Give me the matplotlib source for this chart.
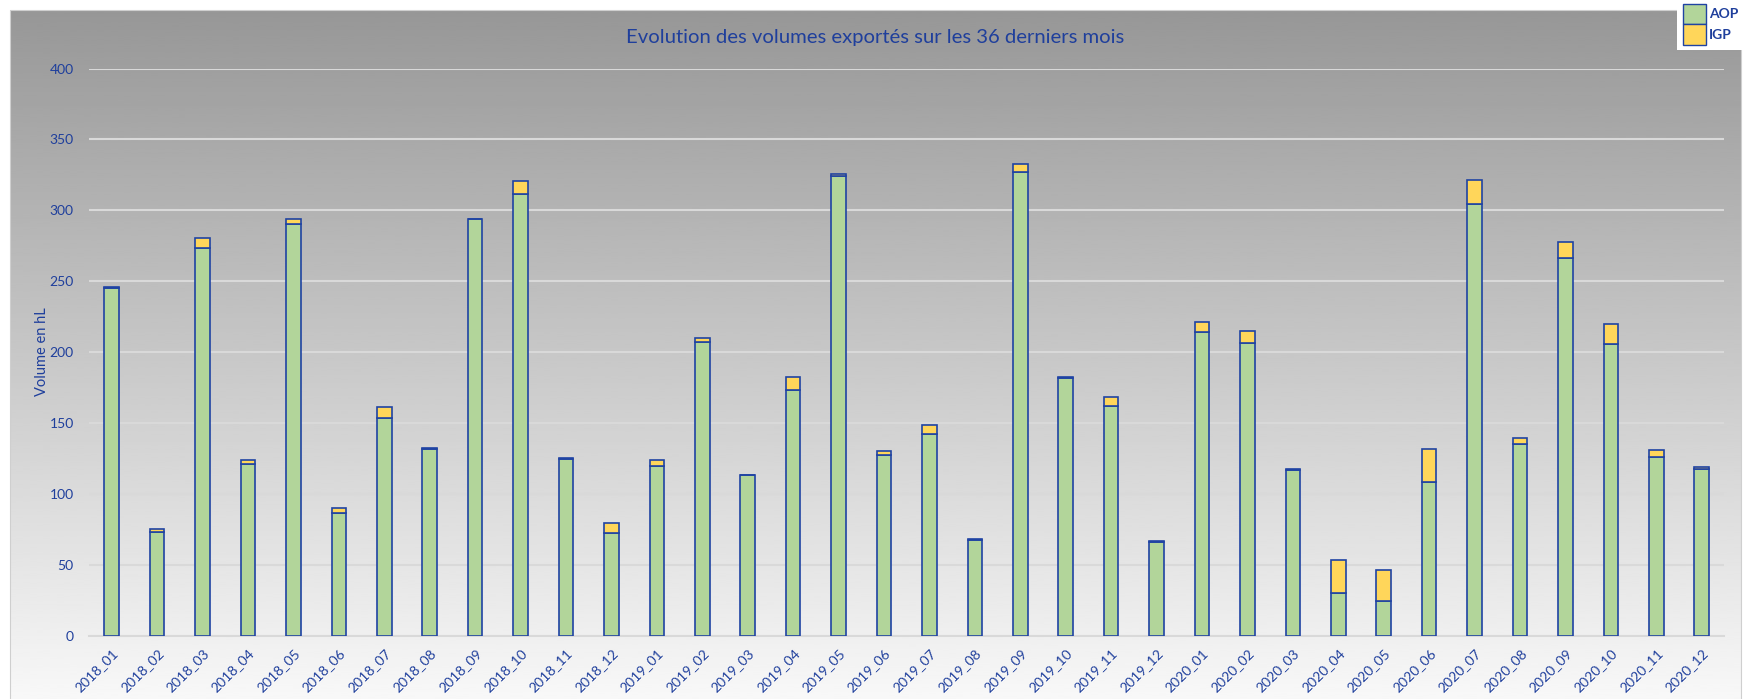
import numpy as np
import matplotlib
matplotlib.use("Agg")
import matplotlib.pyplot as plt
from matplotlib.patches import Rectangle

plt.rcParams["font.family"] = ["Lato", "DejaVu Sans"]

# ---------------------------------------------------------------------------
# Data (hL exported per month)
# ---------------------------------------------------------------------------
months = [
    "2018_01", "2018_02", "2018_03", "2018_04", "2018_05", "2018_06",
    "2018_07", "2018_08", "2018_09", "2018_10", "2018_11", "2018_12",
    "2019_01", "2019_02", "2019_03", "2019_04", "2019_05", "2019_06",
    "2019_07", "2019_08", "2019_09", "2019_10", "2019_11", "2019_12",
    "2020_01", "2020_02", "2020_03", "2020_04", "2020_05", "2020_06",
    "2020_07", "2020_08", "2020_09", "2020_10", "2020_11", "2020_12",
]
aop = [245.3, 72.9, 273.2, 121.3, 290.3, 86.3, 153.8, 131.9, 293.8, 311.7,
       124.8, 72.7, 119.7, 207.1, 113.3, 173.3, 324.4, 127.4, 142.2, 67.5,
       327.0, 181.5, 162.2, 66.1, 214.2, 206.4, 117.0, 29.9, 24.7, 108.6,
       304.7, 135.2, 266.6, 205.5, 126.2, 117.6]
igp = [0.3, 2.3, 7.3, 2.4, 3.6, 4.0, 7.2, 0.7, 0.3, 8.7,
       0.7, 7.0, 4.2, 3.1, 0.2, 9.4, 1.4, 3.1, 6.4, 0.7,
       5.7, 1.2, 6.4, 0.9, 6.8, 8.7, 0.6, 23.3, 21.6, 22.8,
       16.7, 4.0, 11.0, 14.3, 5.0, 1.1]
yticks = [0, 50, 100, 150, 200, 250, 300, 350, 400]

TITLE = "Evolution des volumes exportés sur les 36 derniers mois"
BLUE = "#1f3f9c"
GREEN = "#b2d59a"
YELLOW = "#ffd65a"
EDGE = "#1f43a3"
GRID = "#d9d9d9"

# ---------------------------------------------------------------------------
# Figure + gradient background (pixel coordinates)
# ---------------------------------------------------------------------------
W, H = 1743, 699
fig = plt.figure(figsize=(W / 100, H / 100), dpi=100)
fig.patch.set_facecolor("white")

bg = fig.add_axes([0, 0, 1, 1], zorder=-1)
bg.set_xlim(0, W)
bg.set_ylim(H, 0)
bg.axis("off")
grad = np.linspace(151, 248, 256).reshape(-1, 1) / 255.0
bg.imshow(grad, cmap="gray", vmin=0, vmax=1, aspect="auto",
          extent=(10, 1741, 699, 10), interpolation="bilinear")
bg.add_patch(Rectangle((10, 10), 1731, 700, fill=False,
                       edgecolor="#cfcfcf", lw=0.8))

# title
bg.text(875, 37, TITLE, ha="center", va="center", fontsize=14.6, color=BLUE)

# legend box, top right
bg.add_patch(Rectangle((1677, 0), 66, 50, facecolor="white", edgecolor="none"))
bg.add_patch(Rectangle((1683.5, 3.5), 23, 20.5, facecolor=GREEN,
                       edgecolor=EDGE, lw=1.0))
bg.add_patch(Rectangle((1683.5, 24), 23, 21, facecolor=YELLOW,
                       edgecolor=EDGE, lw=1.0))
bg.text(1709, 14, "AOP", ha="left", va="center", fontsize=10,
        fontweight="bold", color=BLUE)
bg.text(1709, 35, "IGP", ha="left", va="center", fontsize=10,
        fontweight="bold", color=BLUE)

# ---------------------------------------------------------------------------
# Main axes
# ---------------------------------------------------------------------------
ax = fig.add_axes([89 / W, (H - 635.7) / H, (1724.4 - 89) / W,
                   (635.7 - 68.5) / H])
ax.set_facecolor("none")

x = np.arange(len(months))
ax.bar(x, aop, 0.32, color=GREEN, edgecolor=EDGE, lw=1.2, zorder=3)
ax.bar(x, igp, 0.32, bottom=aop, color=YELLOW, edgecolor=EDGE, lw=1.2,
       zorder=3)

ax.set_xlim(-0.5, len(months) - 0.5)
ax.set_ylim(0, 400)
ax.set_yticks(yticks)
ax.set_xticks(x)
ax.set_xticklabels(months, rotation=45, ha="right", va="top",
                   rotation_mode="anchor")
ax.grid(axis="y", color=GRID, lw=1.5, zorder=0)
ax.set_axisbelow(True)
for side in ["top", "right", "left"]:
    ax.spines[side].set_visible(False)
ax.spines["bottom"].set_color(GRID)
ax.spines["bottom"].set_linewidth(1.5)

ax.tick_params(axis="both", length=0, colors=BLUE, labelsize=10)
ax.tick_params(axis="y", pad=11)
ax.tick_params(axis="x", pad=8)
ax.set_ylabel("Volume en hL", color=BLUE, fontsize=10.5, labelpad=0.5)

fig.savefig("out.png", dpi=100)
